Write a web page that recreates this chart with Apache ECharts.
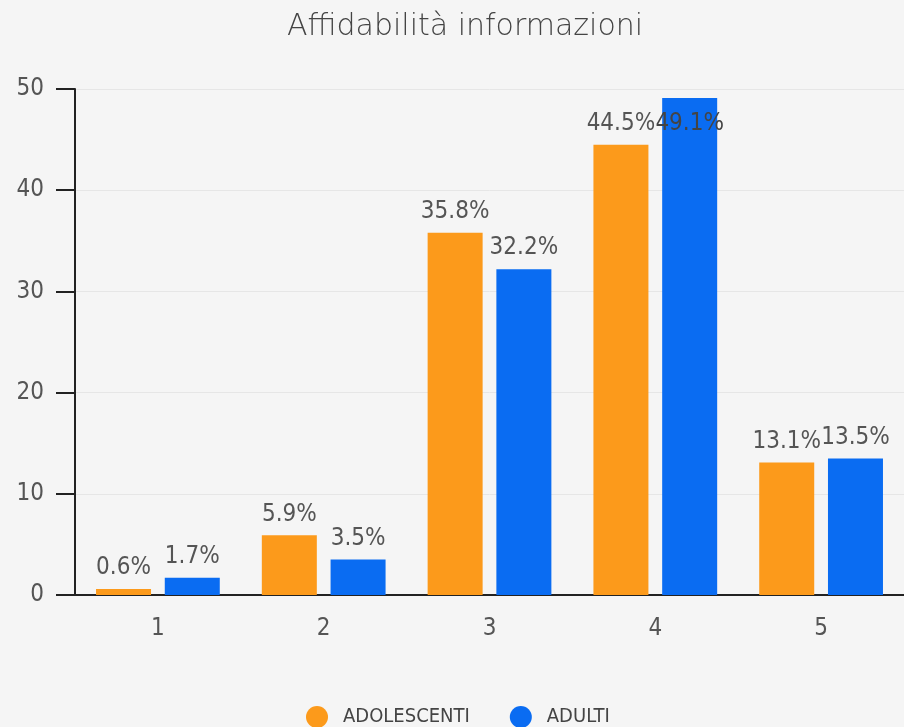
<!DOCTYPE html>
<html>
<head>
<meta charset="utf-8">
<script src="https://cdn.jsdelivr.net/npm/echarts@6/dist/echarts.min.js"></script>
<style>
  html, body { margin: 0; padding: 0; background: #f5f5f5; }
  #chart { width: 904px; height: 727px; }
</style>
</head>
<body>
<div id="chart"></div>
<script>
const categories = ['1', '2', '3', '4', '5'];
const adolescenti = [0.6, 5.9, 35.8, 44.5, 13.1];
const adulti = [1.7, 3.5, 32.2, 49.1, 13.5];

const narrow = '"DejaVu Sans Condensed", "Liberation Sans Narrow", Roboto, sans-serif';

const chart = echarts.init(document.getElementById('chart'));

const barLabel = {
    show: true,
    position: 'top',
    distance: 9,
    formatter: '{c}%',
    color: '#555',
    fontFamily: narrow,
    fontSize: 24
};

// the tallest label is pushed down into the bar so it stays under the plot top
const adultiData = adulti.map(v => v > 48 ? { value: v, label: { distance: -38, color: '#444' } } : v);

chart.setOption({
    animation: false,
    backgroundColor: '#f5f5f5',
    title: {
        text: 'Affidabilità informazioni',
        left: 282,
        top: 7,
        textStyle: {
            fontFamily: '"DejaVu Sans", sans-serif',
            fontWeight: 200,
            fontSize: 30,
            color: '#444'
        }
    },
    legend: {
        top: 701,
        left: 301,
        itemGap: 40,
        itemWidth: 22,
        itemHeight: 22,
        icon: 'circle',
        textStyle: {
            fontFamily: narrow,
            fontSize: 20,
            color: '#444',
            padding: [0, 0, 0, 10]
        },
        data: ['ADOLESCENTI', 'ADULTI']
    },
    grid: {
        left: 75,
        top: 89,
        width: 831,
        height: 506
    },
    xAxis: {
        type: 'category',
        data: categories,
        axisLine: { lineStyle: { color: '#222', width: 2 } },
        axisTick: { alignWithLabel: true, length: 18, lineStyle: { color: '#222', width: 2 } },
        axisLabel: {
            margin: 22,
            color: '#555',
            fontFamily: narrow,
            fontSize: 24
        }
    },
    yAxis: {
        type: 'value',
        min: 0,
        max: 50,
        interval: 10,
        axisLine: { show: true, lineStyle: { color: '#222', width: 2 } },
        axisTick: { show: true, length: 19, lineStyle: { color: '#222', width: 2 } },
        axisLabel: {
            margin: 31,
            color: '#555',
            fontFamily: narrow,
            fontSize: 24
        },
        splitLine: { lineStyle: { color: '#e6e6e6' } }
    },
    series: [
        {
            name: 'ADOLESCENTI',
            type: 'bar',
            barWidth: 55,
            barGap: '25%',
            itemStyle: { color: '#fc9a1b' },
            label: barLabel,
            data: adolescenti
        },
        {
            name: 'ADULTI',
            type: 'bar',
            barWidth: 55,
            itemStyle: { color: '#0a6cf2' },
            label: barLabel,
            data: adultiData
        }
    ]
});
</script>
</body>
</html>
